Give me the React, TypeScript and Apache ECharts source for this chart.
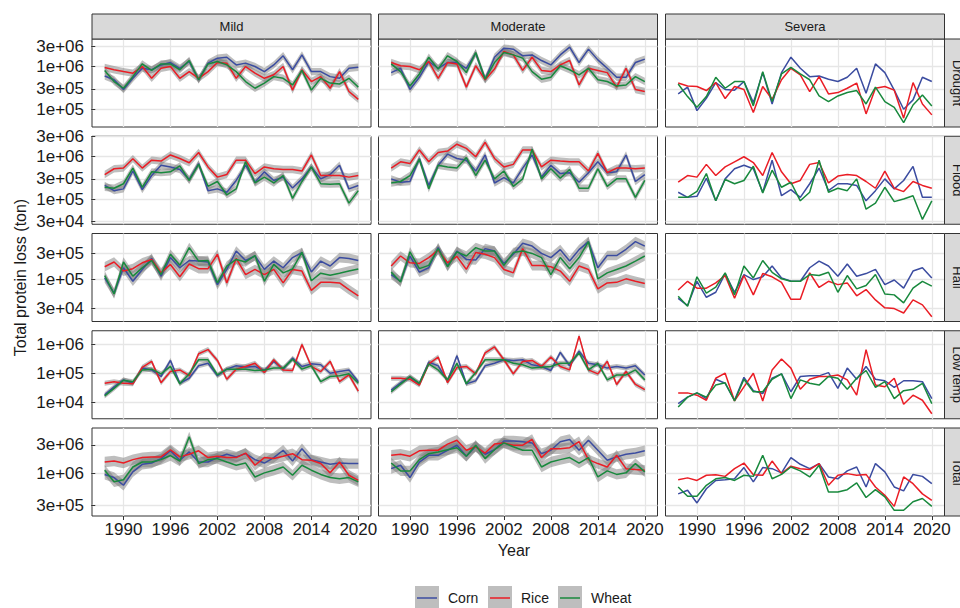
import React, { useEffect, useRef } from "react";
import * as echarts from "echarts";

// ---- facets -------------------------------------------------------------
const SEVERITIES = ["Mild", "Moderate", "Severa"];
const HAZARDS = ["Drought", "Flood", "Hail", "Low temp", "Total"];
const CROPS = ["Corn", "Rice", "Wheat"];
const CROP_COLORS = ["#3b4ca0", "#ea1d25", "#18893d"];

// x is the period index 1..28; the axis shows these year labels
const X_TICK_POS = [3, 8, 13, 18, 23, 28];
const X_TICK_LABELS = ["1990", "1996", "2002", "2008", "2014", "2020"];

// log-scale breaks and visible range for each hazard row
const Y_BREAKS = [
  [1e5, 3e5, 1e6, 3e6],
  [3e4, 1e5, 3e5, 1e6, 3e6],
  [3e4, 1e5, 3e5],
  [1e4, 1e5, 1e6],
  [3e5, 1e6, 3e6],
];
const Y_RANGE = [
  [3.85e4, 4.4e6],
  [2.54e4, 3.05e6],
  [1.76e4, 6.73e5],
  [2.7e3, 2.9e6],
  [1.97e5, 5.75e6],
];

// ribbon half-width as a multiplicative factor around each line
const BAND = 1.22;

// ---- Drought --------------------------------------------------------------
const droughtMildCorn = [6.0e5, 4.9e5, 2.9e5, 5.3e5, 9.1e5, 8.4e5, 1.09e6, 1.24e6, 9.1e5, 1.31e6, 4.9e5, 1.2e6, 1.57e6, 1.65e6, 1.09e6, 1.2e6, 1.0e6, 7.6e5, 1.09e6, 1.78e6, 8.4e5, 1.87e6, 7.6e5, 7.6e5, 5.8e5, 5.3e5, 9.1e5, 9.6e5];
const droughtMildRice = [9.5e5, 8.4e5, 7.6e5, 7.0e5, 1.0e6, 5.3e5, 9.1e5, 1.0e6, 5.3e5, 7.6e5, 5.3e5, 7.6e5, 1.24e6, 1.2e6, 5.3e5, 1.0e6, 7.0e5, 5.3e5, 6.4e5, 1.0e6, 2.8e5, 8.4e5, 4.45e5, 5.8e5, 3.1e5, 7.6e5, 2.6e5, 1.7e5];
const droughtMildWheat = [8.1e5, 4.45e5, 3.1e5, 5.8e5, 1.15e6, 8.1e5, 1.15e6, 1.15e6, 8.4e5, 1.38e6, 4.9e5, 1.15e6, 1.31e6, 1.09e6, 7.6e5, 4.45e5, 3.1e5, 4.1e5, 5.8e5, 5.3e5, 3.7e5, 8.1e5, 2.8e5, 5.3e5, 4.1e5, 3.9e5, 5.3e5, 3.3e5];

const droughtModCorn = [7.2e5, 9.1e5, 2.9e5, 5.6e5, 1.31e6, 9.1e5, 1.24e6, 1.24e6, 9.1e5, 2.05e6, 5.05e5, 1.65e6, 2.69e6, 2.55e6, 1.78e6, 1.87e6, 1.38e6, 1.09e6, 1.87e6, 2.84e6, 1.24e6, 2.55e6, 1.43e6, 9.1e5, 5.6e5, 5.6e5, 1.24e6, 1.49e6];
const droughtModRice = [1.24e6, 1.04e6, 1.0e6, 8.4e5, 1.31e6, 5.3e5, 1.24e6, 1.15e6, 3.3e5, 1.04e6, 4.9e5, 8.7e5, 2.25e6, 1.87e6, 8.1e5, 1.65e6, 8.1e5, 7.6e5, 1.09e6, 1.38e6, 3.7e5, 9.1e5, 8.1e5, 7.2e5, 3.3e5, 9.1e5, 2.9e5, 2.6e5];
const droughtModWheat = [1.15e6, 7.6e5, 3.5e5, 6.7e5, 1.65e6, 8.7e5, 1.78e6, 1.31e6, 7.2e5, 2.13e6, 5.05e5, 1.24e6, 2.13e6, 1.87e6, 1.57e6, 7.6e5, 5.05e5, 5.6e5, 1.04e6, 8.4e5, 6.4e5, 9.1e5, 4.9e5, 4.45e5, 3.5e5, 3.7e5, 5.8e5, 4.45e5];

const droughtSevCorn = [2.29e5, 3.3e5, 9.3e4, 1.81e5, 4.2e5, 2.9e5, 2.8e5, 4.45e5, 1.43e5, 7.2e5, 1.33e5, 7.2e5, 1.65e6, 9.1e5, 5.8e5, 6.0e5, 5.05e5, 4.45e5, 5.6e5, 9.1e5, 2.37e5, 1.15e6, 7.2e5, 2.8e5, 1.0e5, 1.66e5, 5.6e5, 4.45e5];
const droughtSevRice = [4.1e5, 3.5e5, 3.4e5, 2.74e5, 4.2e5, 1.78e5, 3.4e5, 2.9e5, 8.4e4, 3.4e5, 1.71e5, 4.9e5, 9.1e5, 6.4e5, 2.6e5, 5.8e5, 2.29e5, 2.46e5, 3.1e5, 4.1e5, 7.8e4, 3.1e5, 3.4e5, 2.8e5, 6.2e4, 4.2e5, 1.33e5, 7.4e4];
const droughtSevWheat = [3.9e5, 1.98e5, 1.11e5, 1.98e5, 5.6e5, 3.1e5, 4.45e5, 4.45e5, 1.2e5, 7.6e5, 1.51e5, 6.7e5, 9.6e5, 6.7e5, 4.9e5, 2.05e5, 1.51e5, 2.05e5, 2.46e5, 2.74e5, 1.33e5, 3.3e5, 1.51e5, 1.11e5, 4.9e4, 1.26e5, 2.15e5, 1.2e5];

// ---- Flood ----------------------------------------------------------------
const floodMildCorn = [2.1e5, 1.58e5, 1.74e5, 4.6e5, 1.67e5, 3.6e5, 6.3e5, 5.75e5, 5.0e5, 2.9e5, 6.9e5, 1.58e5, 1.74e5, 1.45e5, 2.75e5, 6.3e5, 2.5e5, 4.4e5, 2.75e5, 3.3e5, 1.82e5, 3.0e5, 5.75e5, 3.0e5, 3.8e5, 6.3e5, 1.74e5, 2.1e5];
const floodMildRice = [3.8e5, 5.2e5, 5.4e5, 9.0e5, 5.4e5, 8.3e5, 7.9e5, 1.1e6, 9.1e5, 7.2e5, 1.26e6, 5.75e5, 3.3e5, 3.8e5, 8.3e5, 8.3e5, 4.0e5, 5.75e5, 5.2e5, 5.0e5, 5.0e5, 4.6e5, 1.1e6, 3.6e5, 3.6e5, 3.6e5, 3.3e5, 3.6e5];
const floodMildWheat = [1.9e5, 1.8e5, 2.3e5, 5.4e5, 1.9e5, 4.4e5, 4.2e5, 4.4e5, 6.1e5, 2.75e5, 6.6e5, 2.0e5, 2.6e5, 1.25e5, 1.74e5, 7.6e5, 2.4e5, 3.3e5, 2.4e5, 3.6e5, 1.04e5, 2.6e5, 5.75e5, 2.3e5, 2.25e5, 2.3e5, 8.0e4, 1.58e5];

const floodModCorn = [3.0e5, 2.5e5, 2.6e5, 9.1e5, 2.1e5, 6.3e5, 1.15e6, 9.1e5, 8.3e5, 4.6e5, 1.1e6, 2.4e5, 3.2e5, 2.4e5, 5.4e5, 1.1e6, 3.3e5, 6.3e5, 4.0e5, 4.2e5, 2.5e5, 4.2e5, 7.6e5, 4.2e5, 4.4e5, 1.1e6, 2.6e5, 3.8e5];
const floodModRice = [5.4e5, 7.6e5, 6.9e5, 1.45e6, 7.6e5, 1.26e6, 1.36e6, 1.98e6, 1.58e6, 1.0e6, 2.2e6, 9.1e5, 5.75e5, 6.6e5, 1.45e6, 1.45e6, 5.75e5, 8.3e5, 7.9e5, 7.6e5, 7.6e5, 4.6e5, 1.2e6, 4.2e5, 5.4e5, 5.4e5, 5.2e5, 5.4e5];
const floodModWheat = [2.4e5, 2.6e5, 3.6e5, 8.7e5, 1.74e5, 6.3e5, 5.75e5, 5.4e5, 9.6e5, 3.6e5, 8.3e5, 3.0e5, 4.6e5, 2.0e5, 3.0e5, 1.5e6, 3.0e5, 5.2e5, 3.1e5, 5.0e5, 1.8e5, 1.8e5, 5.2e5, 2.0e5, 3.0e5, 3.0e5, 1.1e5, 2.75e5];

const floodSevCorn = [1.45e5, 1.1e5, 1.16e5, 3.1e5, 9.1e4, 3.0e5, 5.2e5, 6.3e5, 5.2e5, 1.45e5, 8.3e5, 1.2e5, 1.67e5, 1.1e5, 2.3e5, 5.4e5, 1.58e5, 2.3e5, 2.3e5, 2.1e5, 9.1e4, 1.58e5, 3.0e5, 1.74e5, 2.75e5, 5.9e5, 1.1e5, 1.1e5];
const floodSevRice = [2.5e5, 3.6e5, 3.3e5, 6.6e5, 3.6e5, 5.75e5, 7.6e5, 1.0e6, 7.3e5, 3.6e5, 1.26e6, 4.4e5, 2.3e5, 2.75e5, 6.6e5, 7.3e5, 2.4e5, 3.5e5, 3.8e5, 3.6e5, 2.6e5, 1.8e5, 4.6e5, 1.8e5, 1.5e5, 2.6e5, 2.1e5, 1.8e5];
const floodSevWheat = [1.1e5, 1.1e5, 1.52e5, 4.0e5, 9.1e4, 2.9e5, 2.3e5, 2.75e5, 6.0e5, 1.4e5, 4.8e5, 1.9e5, 2.5e5, 9.1e4, 1.45e5, 8.3e5, 1.45e5, 1.8e5, 1.58e5, 3.0e5, 5.75e4, 8.0e4, 1.9e5, 8.7e4, 1.0e5, 1.2e5, 3.3e4, 9.1e4];

// ---- Hail -----------------------------------------------------------------
const hailMildCorn = [1.07e5, 5.7e4, 1.63e5, 9.3e4, 1.52e5, 2.4e5, 1.15e5, 2.48e5, 1.63e5, 2.2e5, 2.15e5, 2.07e5, 8.1e4, 1.52e5, 3.25e5, 2.2e5, 2.65e5, 1.52e5, 2.15e5, 1.63e5, 2.48e5, 3.05e5, 1.37e5, 2.15e5, 1.75e5, 2.48e5, 2.4e5, 2.2e5];
const hailMildRice = [1.7e5, 2.07e5, 1.42e5, 1.57e5, 2.0e5, 2.3e5, 1.32e5, 1.87e5, 1.12e5, 1.9e5, 1.57e5, 1.57e5, 2.85e5, 8.7e4, 2.4e5, 1.23e5, 1.52e5, 1.23e5, 1.52e5, 8.7e4, 1.52e5, 1.42e5, 6.4e4, 8.9e4, 8.9e4, 8.7e4, 6.6e4, 5.1e4];
const hailMildWheat = [1.18e5, 5.5e4, 2.07e5, 1.15e5, 1.63e5, 2.2e5, 1.23e5, 2.85e5, 1.8e5, 3.75e5, 2.15e5, 2.2e5, 8.7e4, 1.75e5, 2.3e5, 2.07e5, 2.7e5, 9.3e4, 1.87e5, 1.32e5, 1.55e5, 3.1e5, 9.5e4, 1.3e5, 1.2e5, 1.3e5, 1.42e5, 1.55e5];

const hailModCorn = [1.23e5, 9.3e4, 2.65e5, 1.36e5, 1.63e5, 3.75e5, 1.75e5, 3.25e5, 2.3e5, 2.25e5, 3.6e5, 3.25e5, 1.95e5, 2.85e5, 4.5e5, 4.0e5, 2.95e5, 2.48e5, 3.45e5, 2.15e5, 3.45e5, 4.8e5, 1.63e5, 2.7e5, 2.7e5, 3.5e5, 4.8e5, 4.0e5];
const hailModRice = [1.75e5, 2.65e5, 2.0e5, 1.95e5, 2.48e5, 3.4e5, 2.0e5, 2.6e5, 1.52e5, 3.05e5, 2.85e5, 2.48e5, 1.52e5, 1.32e5, 3.6e5, 1.78e5, 1.78e5, 1.7e5, 1.42e5, 9.3e4, 1.75e5, 1.52e5, 6.8e4, 8.7e4, 8.9e4, 1.03e5, 9.3e4, 8.5e4];
const hailModWheat = [1.36e5, 9.0e4, 3.15e5, 1.57e5, 1.8e5, 3.6e5, 1.7e5, 3.15e5, 2.65e5, 3.75e5, 3.25e5, 3.25e5, 1.8e5, 3.05e5, 3.25e5, 2.95e5, 2.48e5, 1.23e5, 2.48e5, 1.57e5, 2.48e5, 4.8e5, 1.03e5, 1.32e5, 1.52e5, 1.75e5, 2.15e5, 2.65e5];

const hailSevCorn = [4.6e4, 3.4e4, 9.3e4, 4.8e4, 5.9e4, 1.28e5, 5.9e4, 1.23e5, 1.0e5, 1.12e5, 1.75e5, 1.07e5, 9.3e4, 9.3e4, 1.63e5, 2.15e5, 1.75e5, 1.15e5, 1.9e5, 1.15e5, 1.28e5, 1.52e5, 8.1e4, 9.8e4, 7.0e4, 1.42e5, 1.63e5, 1.07e5];
const hailSevRice = [6.5e4, 9.3e4, 7.0e4, 7.0e4, 8.7e4, 1.18e5, 4.6e4, 1.18e5, 5.3e4, 1.28e5, 1.12e5, 8.9e4, 4.4e4, 4.4e4, 1.32e5, 7.2e4, 9.3e4, 8.1e4, 8.7e4, 5.1e4, 6.6e4, 4.3e4, 3.1e4, 3.0e4, 2.5e4, 4.3e4, 3.5e4, 2.15e4];
const hailSevWheat = [5.0e4, 3.3e4, 1.12e5, 5.7e4, 7.3e4, 1.32e5, 5.3e4, 1.75e5, 1.07e5, 2.2e5, 1.35e5, 1.03e5, 9.3e4, 9.3e4, 1.23e5, 1.18e5, 1.35e5, 5.9e4, 1.18e5, 6.8e4, 7.8e4, 1.23e5, 5.5e4, 5.3e4, 3.8e4, 7.0e4, 9.3e4, 7.6e4];

// ---- Low temp -------------------------------------------------------------
const lowMildCorn = [1.8e4, 3.4e4, 5.9e4, 4.5e4, 1.5e5, 1.3e5, 7.7e4, 2.75e5, 4.5e4, 6.7e4, 1.8e5, 2.2e5, 8.2e4, 1.38e5, 1.8e5, 1.65e5, 1.71e5, 1.24e5, 2.55e5, 1.38e5, 3.3e5, 1.71e5, 2.1e5, 1.95e5, 1.0e5, 1.14e5, 1.3e5, 5.1e4];
const lowMildRice = [4.5e4, 5.1e4, 4.5e4, 4.3e4, 1.6e5, 2.55e5, 4.7e4, 1.14e5, 1.3e5, 8.2e4, 4.7e5, 6.5e5, 2.75e5, 6.2e4, 1.38e5, 1.71e5, 2.2e5, 1.05e5, 2.9e5, 1.3e5, 1.24e5, 9.8e5, 1.71e5, 1.14e5, 2.55e5, 5.1e4, 8.7e4, 2.4e4];
const lowMildWheat = [1.65e4, 3.0e4, 5.7e4, 5.1e4, 1.3e5, 1.38e5, 9.5e4, 1.71e5, 4.3e4, 9.5e4, 2.9e5, 2.9e5, 8.7e4, 1.38e5, 1.38e5, 1.38e5, 1.24e5, 1.3e5, 1.5e5, 1.5e5, 3.0e5, 1.38e5, 1.8e5, 5.1e4, 7.7e4, 8.2e4, 9.5e4, 4.5e4];

const lowModCorn = [2.6e4, 4.7e4, 7.2e4, 4.3e4, 2.4e5, 1.8e5, 5.5e4, 4.0e5, 4.3e4, 5.5e4, 1.8e5, 2.2e5, 2.9e5, 2.75e5, 2.9e5, 1.95e5, 1.71e5, 1.24e5, 5.2e5, 1.8e5, 5.7e5, 2.2e5, 1.95e5, 1.5e5, 1.71e5, 1.5e5, 1.8e5, 8.7e4];
const lowModRice = [6.7e4, 6.7e4, 6.2e4, 3.9e4, 2.1e5, 3.6e5, 4.7e4, 1.57e5, 1.71e5, 9.5e4, 5.0e5, 8.0e5, 2.9e5, 9.5e4, 2.55e5, 2.75e5, 1.71e5, 3.6e5, 1.71e5, 1.3e5, 1.9e6, 1.3e5, 9.5e4, 2.55e5, 4.1e4, 1.14e5, 4.1e4, 2.7e4];
const lowModWheat = [2.3e4, 4.2e4, 7.7e4, 4.5e4, 2.1e5, 1.3e5, 5.9e4, 2.2e5, 4.3e4, 1.05e5, 2.9e5, 2.9e5, 2.9e5, 2.2e5, 1.95e5, 1.5e5, 1.6e5, 1.71e5, 2.2e5, 2.2e5, 5.0e5, 1.3e5, 2.2e5, 5.9e4, 8.7e4, 8.7e4, 1.3e5, 5.9e4];

const lowSevCorn = [9.0e3, 1.5e4, 2.1e4, 1.34e4, 6.2e4, 4.5e4, 1.17e4, 7.2e4, 2.5e4, 2.0e4, 6.7e4, 9.5e4, 2.3e4, 7.7e4, 8.1e4, 8.1e4, 1.05e5, 3.0e4, 1.5e5, 6.2e4, 1.71e5, 6.2e4, 5.5e4, 3.25e4, 5.5e4, 5.5e4, 5.1e4, 1.34e4];
const lowSevRice = [2.1e4, 2.1e4, 1.75e4, 1.17e4, 6.7e4, 1.0e5, 1.11e4, 3.4e4, 1.0e5, 1.11e4, 1.3e5, 3.08e5, 1.5e5, 2.8e4, 6.2e4, 7.7e4, 7.7e4, 8.7e4, 5.9e4, 1.75e4, 6.5e5, 3.9e4, 3.4e4, 6.7e4, 8.5e3, 1.75e4, 1.17e4, 4.0e3];
const lowSevWheat = [6.9e3, 1.5e4, 2.1e4, 1.5e4, 3.9e4, 4.7e4, 1.11e4, 6.2e4, 2.3e4, 2.3e4, 6.2e4, 9.5e4, 1.34e4, 5.9e4, 4.5e4, 3.9e4, 7.7e4, 6.7e4, 2.8e4, 6.7e4, 1.24e5, 3.25e4, 5.1e4, 1.34e4, 2.5e4, 2.8e4, 4.5e4, 9.0e3];

// ---- Total ----------------------------------------------------------------
const totalMildCorn = [9.7e5, 8.6e5, 6.4e5, 1.07e6, 1.43e6, 1.5e6, 1.78e6, 2.4e6, 1.67e6, 2.3e6, 1.56e6, 1.56e6, 1.85e6, 2.1e6, 1.9e6, 2.15e6, 1.71e6, 1.5e6, 1.85e6, 2.45e6, 1.62e6, 2.6e6, 1.71e6, 1.56e6, 1.43e6, 1.5e6, 1.47e6, 1.47e6];
const totalMildRice = [1.56e6, 1.62e6, 1.5e6, 1.71e6, 1.85e6, 1.9e6, 1.9e6, 2.5e6, 1.9e6, 2.1e6, 2.4e6, 1.85e6, 1.95e6, 1.85e6, 1.85e6, 2.2e6, 1.38e6, 1.85e6, 1.78e6, 1.95e6, 2.15e6, 1.71e6, 1.67e6, 1.47e6, 1.03e6, 1.56e6, 9.4e5, 7.7e5];
const totalMildWheat = [1.14e6, 7.3e5, 7.9e5, 1.29e6, 1.56e6, 1.56e6, 1.71e6, 2.0e6, 1.62e6, 4.1e6, 1.47e6, 1.71e6, 1.78e6, 1.56e6, 1.38e6, 1.5e6, 8.8e5, 1.03e6, 1.14e6, 1.29e6, 9.4e5, 1.38e6, 1.14e6, 9.7e5, 8.6e5, 8.2e5, 8.6e5, 7.3e5];

const totalModCorn = [1.21e6, 1.38e6, 8.6e5, 1.56e6, 2.02e6, 2.02e6, 2.45e6, 2.97e6, 1.95e6, 2.85e6, 2.1e6, 2.5e6, 3.5e6, 3.5e6, 3.4e6, 3.25e6, 2.15e6, 2.45e6, 3.4e6, 3.7e6, 2.45e6, 3.6e6, 2.45e6, 1.67e6, 1.9e6, 2.1e6, 2.2e6, 2.4e6];
const totalModRice = [2.02e6, 2.1e6, 1.95e6, 2.4e6, 2.45e6, 2.45e6, 3.1e6, 3.6e6, 2.45e6, 2.8e6, 2.2e6, 3.1e6, 3.25e6, 2.97e6, 2.97e6, 3.7e6, 1.85e6, 2.6e6, 2.6e6, 2.7e6, 3.4e6, 1.71e6, 1.47e6, 1.29e6, 2.02e6, 1.21e6, 1.17e6, 1.14e6];
const totalModWheat = [1.5e6, 1.11e6, 1.11e6, 1.71e6, 2.15e6, 2.3e6, 2.5e6, 2.7e6, 1.95e6, 2.97e6, 1.78e6, 2.5e6, 3.25e6, 2.8e6, 2.45e6, 2.45e6, 1.29e6, 1.56e6, 1.71e6, 1.85e6, 1.5e6, 1.85e6, 8.8e5, 1.11e6, 9.7e5, 1.03e6, 1.47e6, 1.07e6];

const totalSevCorn = [4.6e5, 5.3e5, 3.25e5, 5.6e5, 7.7e5, 7.9e5, 8.2e5, 1.26e6, 7.3e5, 1.26e6, 1.21e6, 1.03e6, 1.85e6, 1.43e6, 1.21e6, 1.47e6, 8.8e5, 8.2e5, 1.11e6, 1.29e6, 6.0e5, 1.47e6, 1.07e6, 6.0e5, 5.15e5, 9.7e5, 9.0e5, 6.8e5];
const totalSevRice = [7.9e5, 8.5e5, 7.7e5, 9.4e5, 9.6e5, 9.0e5, 1.21e6, 1.5e6, 9.6e5, 9.4e5, 1.62e6, 1.0e6, 1.33e6, 1.21e6, 1.17e6, 1.47e6, 6.4e5, 9.4e5, 1.0e6, 9.4e5, 9.7e5, 6.0e5, 4.35e5, 2.85e5, 8.8e5, 6.8e5, 4.6e5, 3.6e5];
const totalSevWheat = [6.0e5, 4.2e5, 4.2e5, 6.4e5, 8.2e5, 8.6e5, 7.7e5, 9.4e5, 9.0e5, 2.02e6, 8.2e5, 9.7e5, 1.29e6, 1.11e6, 8.8e5, 1.38e6, 4.95e5, 4.95e5, 5.4e5, 7.0e5, 4.0e5, 5.4e5, 4.1e5, 2.45e5, 2.45e5, 3.4e5, 3.85e5, 2.85e5];

// panel table: [hazard row][severity column] -> [corn, rice, wheat]
const PANELS = [
  [[droughtMildCorn, droughtMildRice, droughtMildWheat], [droughtModCorn, droughtModRice, droughtModWheat], [droughtSevCorn, droughtSevRice, droughtSevWheat]],
  [[floodMildCorn, floodMildRice, floodMildWheat], [floodModCorn, floodModRice, floodModWheat], [floodSevCorn, floodSevRice, floodSevWheat]],
  [[hailMildCorn, hailMildRice, hailMildWheat], [hailModCorn, hailModRice, hailModWheat], [hailSevCorn, hailSevRice, hailSevWheat]],
  [[lowMildCorn, lowMildRice, lowMildWheat], [lowModCorn, lowModRice, lowModWheat], [lowSevCorn, lowSevRice, lowSevWheat]],
  [[totalMildCorn, totalMildRice, totalMildWheat], [totalModCorn, totalModRice, totalModWheat], [totalSevCorn, totalSevRice, totalSevWheat]],
];

// ---- layout ---------------------------------------------------------------
const FONT = "'Liberation Sans', Arial, Helvetica, sans-serif";
const COL_LEFT = [92, 378.5, 665.5];
const PANEL_W = 279;
const ROW_TOP = [39, 136.25, 233.5, 330.75, 428];
const PANEL_H = 88;
const STRIP = 25;
const X_MIN = -0.35;
const X_MAX = 29.35;
const GRID_LINE = "#e6e6e6";
const DARK = "#333333";
const TEXT = "#1a1a1a";
const RIBBON = "rgba(120,120,120,0.48)";
const LINE_W = 1.5;

function sci(v: number): string {
  const [m, e] = v.toExponential(0).split("e");
  const n = parseInt(e, 10);
  return `${m}e${n < 0 ? "-" : "+"}${String(Math.abs(n)).padStart(2, "0")}`;
}

// a custom series that fills the band between vals/BAND and vals*BAND
function ribbonSeries(idx: number, vals: number[]) {
  return {
    type: "custom",
    xAxisIndex: idx,
    yAxisIndex: idx,
    silent: true,
    clip: true,
    z: 1,
    data: [[1, vals[0]]],
    renderItem: (_params: any, api: any) => {
      const upper = vals.map((v, i) => api.coord([i + 1, v * BAND]));
      const lower = vals.map((v, i) => api.coord([i + 1, v / BAND])).reverse();
      return {
        type: "polygon",
        shape: { points: upper.concat(lower) },
        style: { fill: RIBBON },
      };
    },
  };
}

function buildOption() {
  const grids: any[] = [];
  const xAxes: any[] = [];
  const yAxes: any[] = [];
  const series: any[] = [];
  const graphics: any[] = [];

  HAZARDS.forEach((hazard, r) => {
    SEVERITIES.forEach((sev, c) => {
      const idx = r * 3 + c;
      grids.push({
        left: COL_LEFT[c],
        top: ROW_TOP[r],
        width: PANEL_W,
        height: PANEL_H,
        show: true,
        backgroundColor: "#ffffff",
        borderColor: DARK,
        borderWidth: 1,
      });
      const bottomRow = r === HAZARDS.length - 1;
      xAxes.push({
        gridIndex: idx,
        type: "value",
        min: X_MIN,
        max: X_MAX,
        axisLine: { show: false },
        axisTick: {
          show: bottomRow,
          customValues: X_TICK_POS,
          length: 4,
          lineStyle: { color: DARK, width: 1 },
        },
        axisLabel: {
          show: bottomRow,
          customValues: X_TICK_POS,
          margin: 5,
          fontSize: 17,
          fontFamily: FONT,
          color: TEXT,
          formatter: (v: number) => {
            const k = X_TICK_POS.indexOf(Math.round(v));
            return k >= 0 ? X_TICK_LABELS[k] : "";
          },
        },
        splitLine: { show: true, lineStyle: { color: GRID_LINE, width: 1.3 } },
      });
      const firstCol = c === 0;
      yAxes.push({
        gridIndex: idx,
        type: "log",
        logBase: 10,
        min: Y_RANGE[r][0],
        max: Y_RANGE[r][1],
        axisLine: { show: false },
        axisTick: {
          show: firstCol,
          customValues: Y_BREAKS[r],
          length: 4,
          lineStyle: { color: DARK, width: 1 },
        },
        axisLabel: {
          show: firstCol,
          customValues: Y_BREAKS[r],
          margin: 8,
          fontSize: 17,
          fontFamily: FONT,
          color: TEXT,
          formatter: (v: number) => sci(v),
        },
        splitLine: { show: true, lineStyle: { color: GRID_LINE, width: 1.3 } },
      });

      const crops = PANELS[r][c];
      // uncertainty ribbons (Mild and Moderate only)
      if (c < 2) {
        crops.forEach((vals) => series.push(ribbonSeries(idx, vals)));
      }
      crops.forEach((vals, k) => {
        series.push({
          name: CROPS[k],
          type: "line",
          xAxisIndex: idx,
          yAxisIndex: idx,
          data: vals.map((v, i) => [i + 1, v]),
          symbol: "none",
          lineStyle: { color: CROP_COLORS[k], width: LINE_W },
          z: 3,
        });
      });
    });
  });

  // top strips
  SEVERITIES.forEach((sev, c) => {
    graphics.push({
      type: "rect",
      shape: { x: COL_LEFT[c], y: ROW_TOP[0] - STRIP, width: PANEL_W, height: STRIP },
      style: { fill: "#d9d9d9", stroke: DARK, lineWidth: 1 },
      z: 10,
    });
    graphics.push({
      type: "text",
      x: COL_LEFT[c] + PANEL_W / 2,
      y: ROW_TOP[0] - STRIP / 2,
      style: { text: sev, fontSize: 13, fontFamily: FONT, fill: TEXT, align: "center", verticalAlign: "middle" },
      z: 11,
    });
  });
  // right strips (they run past the right edge of the canvas)
  const stripX = COL_LEFT[2] + PANEL_W;
  HAZARDS.forEach((hazard, r) => {
    graphics.push({
      type: "rect",
      shape: { x: stripX, y: ROW_TOP[r], width: STRIP, height: PANEL_H },
      style: { fill: "#d9d9d9", stroke: DARK, lineWidth: 1 },
      z: 10,
    });
    graphics.push({
      type: "text",
      x: stripX + STRIP / 2,
      y: ROW_TOP[r] + PANEL_H / 2,
      rotation: -Math.PI / 2,
      style: { text: hazard, fontSize: 13, fontFamily: FONT, fill: TEXT, align: "center", verticalAlign: "middle" },
      z: 11,
    });
  });

  // axis titles
  graphics.push({
    type: "text",
    x: 20,
    y: (ROW_TOP[0] + ROW_TOP[4] + PANEL_H) / 2,
    rotation: Math.PI / 2,
    style: { text: "Total protein loss (ton)", fontSize: 16, fontFamily: FONT, fill: TEXT, align: "center", verticalAlign: "middle" },
  });
  graphics.push({
    type: "text",
    x: 514,
    y: 550,
    style: { text: "Year", fontSize: 16, fontFamily: FONT, fill: TEXT, align: "center", verticalAlign: "middle" },
  });

  // legend
  const KEY_X = [415, 488, 558];
  const KEY_Y = 586;
  const KEY = 24;
  CROPS.forEach((crop, k) => {
    graphics.push({
      type: "rect",
      shape: { x: KEY_X[k], y: KEY_Y, width: KEY, height: KEY },
      style: { fill: "#bebebe" },
    });
    graphics.push({
      type: "line",
      shape: { x1: KEY_X[k] + 2, y1: KEY_Y + KEY / 2, x2: KEY_X[k] + KEY - 2, y2: KEY_Y + KEY / 2 },
      style: { stroke: CROP_COLORS[k], lineWidth: LINE_W },
    });
    graphics.push({
      type: "text",
      x: KEY_X[k] + KEY + 9,
      y: KEY_Y + KEY / 2,
      style: { text: crop, fontSize: 14, fontFamily: FONT, fill: TEXT, align: "left", verticalAlign: "middle" },
    });
  });

  return {
    animation: false,
    backgroundColor: "#ffffff",
    grid: grids,
    xAxis: xAxes,
    yAxis: yAxes,
    series,
    graphic: graphics,
  };
}

export default function App() {
  const ref = useRef<HTMLDivElement>(null);
  useEffect(() => {
    if (!ref.current) return;
    const chart = echarts.init(ref.current, undefined, { renderer: "svg" });
    chart.setOption(buildOption());
    return () => chart.dispose();
  }, []);
  return (
    <div
      ref={ref}
      style={{ position: "fixed", left: 0, top: 0, width: 960, height: 608, background: "#fff" }}
    />
  );
}
